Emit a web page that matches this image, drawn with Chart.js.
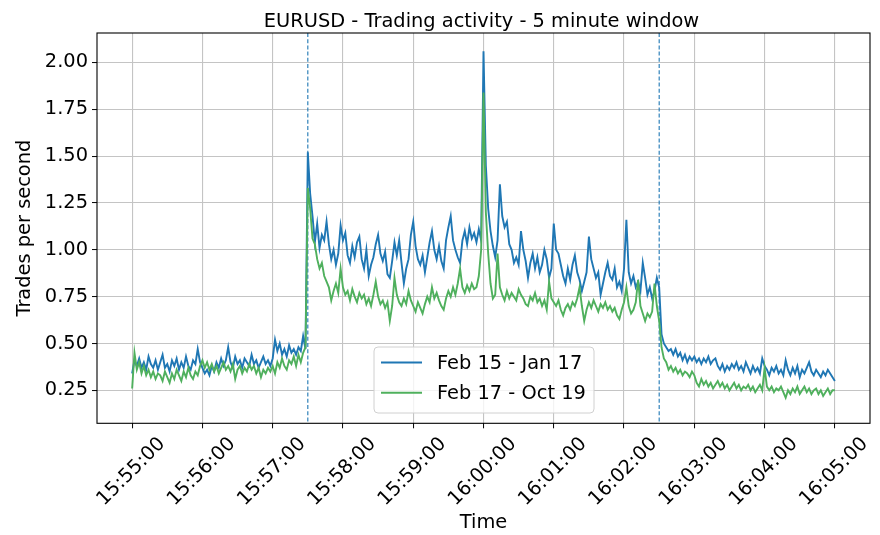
<!DOCTYPE html>
<html><head><meta charset="utf-8">
<script src="https://cdn.jsdelivr.net/npm/chart.js@4"></script>
<style>html,body{margin:0;padding:0;background:#fff}</style>
</head><body>
<canvas id="c" width="880" height="535"></canvas>
<script>
const chartTitle = 'EURUSD - Trading activity - 5 minute window';
const xTitle = 'Time';
const yTitle = 'Trades per second';
const seriesLabels = ['Feb 15 - Jan 17', 'Feb 17 - Oct 19'];
const sampleStepSeconds = 2;
const xTickSeconds = [0, 60, 120, 180, 240, 300, 360, 420, 480, 540, 600];
const xTickLabels = ['15:55:00','15:56:00','15:57:00','15:58:00','15:59:00','16:00:00','16:01:00','16:02:00','16:03:00','16:04:00','16:05:00'];
const yTicks = [0.25, 0.5, 0.75, 1.0, 1.25, 1.5, 1.75, 2.0];
const eventSeconds = [150, 450];

const blueSeries = [
0.34,0.41,0.38,0.42,0.37,0.40,0.36,0.43,0.39,0.37,0.41,0.36,0.40,0.44,0.37,0.39,0.35,0.41,0.38,0.42,0.36,0.40,0.37,0.43,0.38,0.36,0.41,0.39,0.47,0.40,
0.37,0.34,0.36,0.33,0.38,0.35,0.40,0.37,0.42,0.38,0.41,0.48,0.40,0.37,0.43,0.39,0.41,0.37,0.42,0.40,0.38,0.44,0.39,0.41,0.37,0.40,0.43,0.39,0.41,0.38,
0.42,0.52,0.46,0.50,0.44,0.47,0.43,0.49,0.45,0.47,0.44,0.48,0.46,0.54,0.47,1.52,1.30,1.18,1.04,1.14,1.01,1.08,1.05,1.15,1.03,0.95,1.00,0.92,0.98,1.13,
1.05,1.09,0.97,0.93,1.02,0.96,1.04,1.07,0.95,0.90,1.00,0.86,0.92,0.96,1.03,1.08,0.98,0.94,0.99,0.87,0.85,0.94,1.04,0.97,1.05,0.93,0.82,0.90,0.95,1.08,
1.15,1.02,0.95,0.92,0.97,0.88,0.96,1.04,1.10,1.00,0.95,1.02,0.94,0.90,1.05,1.12,1.18,1.05,1.00,0.96,0.93,1.05,1.10,1.03,1.12,1.06,1.09,1.04,1.11,1.05,
2.06,1.45,1.22,1.10,1.02,0.96,1.05,1.35,1.18,1.12,1.15,1.03,1.00,0.93,0.96,0.92,1.10,1.00,0.94,0.85,0.93,0.98,0.90,0.96,0.88,0.92,1.00,0.95,0.85,0.90,
1.14,1.00,0.98,0.92,0.86,0.82,0.90,0.84,0.92,0.97,0.88,0.84,0.78,0.83,0.88,1.07,0.95,0.90,0.85,0.88,0.76,0.82,0.88,0.93,0.86,0.84,0.90,0.80,0.83,0.78,
0.90,1.16,0.88,0.82,0.86,0.80,0.83,0.78,0.93,0.85,0.76,0.80,0.74,0.78,0.85,0.80,0.55,0.50,0.48,0.46,0.47,0.44,0.47,0.43,0.45,0.41,0.44,0.40,0.43,0.41,
0.43,0.40,0.42,0.39,0.42,0.40,0.43,0.39,0.41,0.42,0.38,0.36,0.39,0.35,0.38,0.36,0.39,0.37,0.40,0.36,0.38,0.35,0.40,0.37,0.34,0.38,0.35,0.37,0.34,0.42,
0.38,0.36,0.33,0.37,0.35,0.38,0.34,0.36,0.33,0.41,0.36,0.33,0.37,0.34,0.38,0.32,0.36,0.34,0.37,0.40,0.35,0.33,0.36,0.34,0.32,0.35,0.33,0.36,0.34,0.32,
0.30
];

const greenSeries = [
0.26,0.45,0.36,0.40,0.34,0.38,0.33,0.36,0.32,0.35,0.31,0.34,0.33,0.30,0.35,0.32,0.29,0.34,0.31,0.36,0.33,0.30,0.35,0.32,0.37,0.33,0.31,0.35,0.33,0.38,
0.41,0.37,0.40,0.36,0.39,0.35,0.38,0.34,0.37,0.40,0.36,0.38,0.35,0.39,0.31,0.36,0.38,0.34,0.37,0.35,0.39,0.36,0.38,0.34,0.37,0.32,0.36,0.34,0.37,0.35,
0.38,0.34,0.40,0.37,0.42,0.38,0.36,0.41,0.39,0.43,0.38,0.44,0.40,0.45,0.48,1.33,1.22,1.06,1.03,0.95,0.90,0.93,0.86,0.83,0.80,0.73,0.78,0.82,0.77,0.90,
0.80,0.76,0.78,0.73,0.79,0.75,0.72,0.77,0.74,0.76,0.71,0.74,0.70,0.76,0.83,0.75,0.71,0.73,0.69,0.72,0.62,0.70,0.85,0.76,0.72,0.70,0.74,0.71,0.78,0.73,
0.70,0.67,0.72,0.69,0.66,0.71,0.75,0.72,0.80,0.74,0.77,0.73,0.70,0.68,0.74,0.78,0.75,0.80,0.76,0.82,0.90,0.80,0.77,0.81,0.78,0.82,0.79,0.80,0.86,1.00,
1.84,1.20,0.98,0.82,0.74,0.76,0.98,0.80,0.76,0.73,0.78,0.74,0.77,0.75,0.73,0.79,0.76,0.74,0.71,0.70,0.75,0.73,0.77,0.72,0.74,0.70,0.73,0.68,0.83,0.74,
0.72,0.70,0.73,0.68,0.65,0.69,0.71,0.68,0.72,0.70,0.74,0.80,0.70,0.62,0.68,0.72,0.69,0.73,0.70,0.67,0.71,0.69,0.72,0.68,0.70,0.67,0.69,0.65,0.63,0.68,
0.72,0.80,0.70,0.66,0.68,0.72,0.84,0.70,0.66,0.62,0.66,0.64,0.67,0.82,0.70,0.62,0.48,0.42,0.40,0.36,0.38,0.35,0.37,0.34,0.36,0.33,0.35,0.34,0.32,0.35,
0.33,0.29,0.27,0.31,0.28,0.30,0.27,0.29,0.26,0.28,0.30,0.27,0.29,0.26,0.28,0.25,0.27,0.29,0.26,0.28,0.25,0.27,0.26,0.28,0.25,0.27,0.24,0.26,0.28,0.25,
0.37,0.27,0.25,0.27,0.24,0.26,0.25,0.27,0.24,0.21,0.25,0.23,0.26,0.24,0.27,0.23,0.25,0.27,0.24,0.26,0.23,0.25,0.26,0.23,0.25,0.22,0.24,0.26,0.23,0.25,
0.25
];

const BLUE = '#1f77b4';
const GREEN = '#4fb05d';
const FONT = 'DejaVu Sans';
const FS = 19.4;

const toPoints = arr => arr.map((v, i) => ({ x: i * sampleStepSeconds, y: v }));

const decorPlugin = {
  id: 'decor',
  beforeDatasetsDraw(chart) {
    const { ctx, chartArea: a, scales: { x } } = chart;
    ctx.save();
    ctx.strokeStyle = BLUE;
    ctx.lineWidth = 1.1;
    ctx.setLineDash([4, 2.2]);
    eventSeconds.forEach(s => {
      const px = x.getPixelForValue(s);
      ctx.beginPath();
      ctx.moveTo(px, a.top);
      ctx.lineTo(px, a.bottom);
      ctx.stroke();
    });
    ctx.restore();
  },
  afterDraw(chart) {
    const { ctx, chartArea: a } = chart;
    ctx.save();
    ctx.strokeStyle = '#000';
    ctx.lineWidth = 1.1;
    ctx.strokeRect(a.left, a.top, a.right - a.left, a.bottom - a.top);
    ctx.fillStyle = '#000';
    ctx.font = FS + 'px "' + FONT + '"';
    ctx.textAlign = 'center';
    ctx.textBaseline = 'alphabetic';
    ctx.fillText(chartTitle, (a.left + a.right) / 2 - 2, 26.5);
    const bx = 374, by = 347, bw = 220, bh = 66, r = 4;
    ctx.beginPath();
    ctx.moveTo(bx + r, by);
    ctx.arcTo(bx + bw, by, bx + bw, by + bh, r);
    ctx.arcTo(bx + bw, by + bh, bx, by + bh, r);
    ctx.arcTo(bx, by + bh, bx, by, r);
    ctx.arcTo(bx, by, bx + bw, by, r);
    ctx.closePath();
    ctx.fillStyle = 'rgba(255,255,255,0.8)';
    ctx.fill();
    ctx.strokeStyle = '#d0d0d0';
    ctx.lineWidth = 1;
    ctx.stroke();
    const colors = [BLUE, GREEN];
    const rows = [362.5, 392.7];
    ctx.textAlign = 'left';
    ctx.textBaseline = 'middle';
    seriesLabels.forEach((lab, i) => {
      ctx.strokeStyle = colors[i];
      ctx.lineWidth = 2;
      ctx.beginPath();
      ctx.moveTo(381, rows[i]);
      ctx.lineTo(422, rows[i]);
      ctx.stroke();
      ctx.fillStyle = '#000';
      ctx.fillText(lab, 437, rows[i] + 1);
    });
    ctx.restore();
  }
};

new Chart(document.getElementById('c'), {
  type: 'line',
  data: {
    datasets: [
      { label: seriesLabels[0], data: toPoints(blueSeries), borderColor: BLUE, backgroundColor: BLUE, order: 2 },
      { label: seriesLabels[1], data: toPoints(greenSeries), borderColor: GREEN, backgroundColor: GREEN, order: 1 }
    ]
  },
  plugins: [decorPlugin],
  options: {
    responsive: false,
    animation: false,
    devicePixelRatio: 1,
    layout: { padding: { top: 33, right: 10, left: 0, bottom: 0 } },
    elements: { point: { radius: 0 }, line: { tension: 0, borderWidth: 1.9 } },
    plugins: { legend: { display: false }, title: { display: false }, tooltip: { enabled: false } },
    scales: {
      x: {
        type: 'linear', min: -30, max: 630,
        afterFit(s) { s.height = 111.7; },
        afterBuildTicks(s) { s.ticks = xTickSeconds.map(v => ({ value: v })); },
        ticks: {
          autoSkip: false, minRotation: 45, maxRotation: 45, labelOffset: 30, padding: 4.5,
          color: '#000', font: { family: FONT, size: FS },
          callback: (v, i) => xTickLabels[i]
        },
        grid: { color: '#c4c4c4', lineWidth: 1.1, tickColor: '#000', tickLength: 5, tickWidth: 1 },
        border: { display: false },
        title: { display: true, text: xTitle, color: '#000', font: { family: FONT, size: FS }, padding: { top: 0, bottom: 0 } }
      },
      y: {
        type: 'linear', min: 0.074, max: 2.157,
        afterFit(s) { s.width = 97; },
        afterBuildTicks(s) { s.ticks = yTicks.map(v => ({ value: v })); },
        ticks: {
          color: '#000', font: { family: FONT, size: FS }, padding: 4,
          callback: v => Number(v).toFixed(2)
        },
        grid: { color: '#c4c4c4', lineWidth: 1.1, tickColor: '#000', tickLength: 5, tickWidth: 1 },
        border: { display: false },
        title: { display: true, text: yTitle, color: '#000', font: { family: FONT, size: FS }, padding: { top: 13, bottom: 0 } }
      }
    }
  }
});
</script>
</body></html>
